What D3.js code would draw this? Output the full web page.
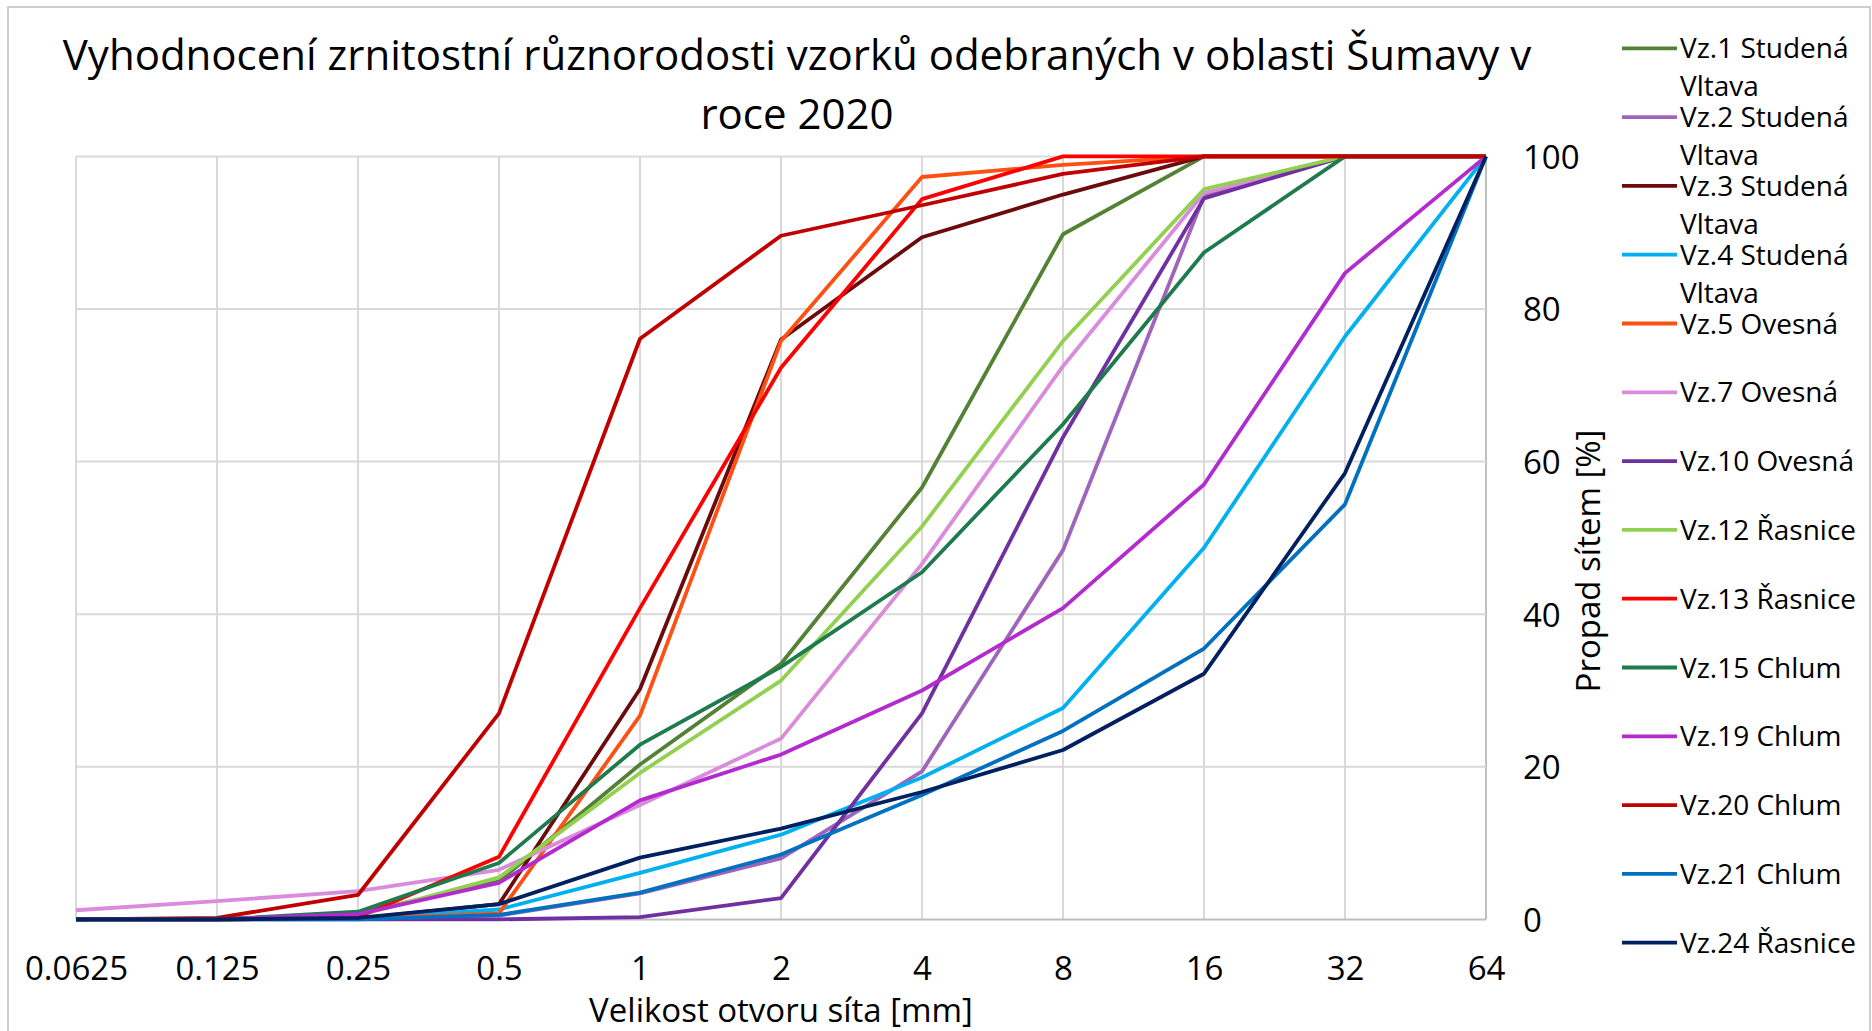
<!DOCTYPE html>
<html>
<head>
<meta charset="utf-8">
<script src="https://cdn.jsdelivr.net/npm/d3@7"></script>
<style>
  body { margin: 0; background: #fff; }
  svg { display: block; font-family: "Open Sans", sans-serif; }
</style>
</head>
<body>
<div id="chart"></div>
<script>
// sieve sizes [mm] and passing percentages
const sieves = ["0.0625", "0.125", "0.25", "0.5", "1", "2", "4", "8", "16", "32", "64"];
const yTicks = [0, 20, 40, 60, 80, 100];

const names = [
  "Vz.1 Studená Vltava", "Vz.2 Studená Vltava", "Vz.3 Studená Vltava", "Vz.4 Studená Vltava",
  "Vz.5 Ovesná", "Vz.7 Ovesná", "Vz.10 Ovesná", "Vz.12 Řasnice", "Vz.13 Řasnice",
  "Vz.15 Chlum", "Vz.19 Chlum", "Vz.20 Chlum", "Vz.21 Chlum", "Vz.24 Řasnice"
];
const colors = [
  "#548235", "#A064B9", "#6B0B0B", "#00B0F0", "#FF5014", "#D98CDC", "#7030A0",
  "#92D050", "#FF0000", "#1E7B4E", "#B32BCF", "#C00000", "#0070C0", "#002060"
];

const vz1  = [0, 0, 0.8, 5.0, 20.3, 33.5, 56.6, 89.8, 100, 100, 100];
const vz2  = [0, 0, 0.2, 0.5, 3.4, 8.0, 19.4, 48.4, 94.8, 100, 100];
const vz3  = [0, 0, 0.1, 2.0, 30.2, 76.0, 89.4, 95.0, 100, 100, 100];
const vz4  = [0, 0, 0.1, 1.3, 6.1, 11.1, 18.6, 27.7, 48.7, 76.4, 100];
const vz5  = [0, 0, 0.1, 0.8, 26.7, 75.8, 97.3, 98.9, 100, 100, 100];
const vz7  = [1.2, 2.4, 3.7, 6.5, 15.0, 23.7, 46.6, 72.5, 95.2, 100, 100];
const vz10 = [0, 0, 0, 0, 0.3, 2.8, 27.0, 63.2, 94.5, 100, 100];
const vz12 = [0, 0, 0.5, 5.5, 19.2, 31.3, 51.5, 75.8, 95.7, 100, 100];
const vz13 = [0, 0, 0.3, 8.2, 40.8, 72.3, 94.4, 100, 100, 100, 100];
const vz15 = [0, 0, 1.0, 7.4, 22.9, 33.1, 45.5, 64.9, 87.4, 100, 100];
const vz19 = [0, 0, 0.7, 4.8, 15.6, 21.6, 30.0, 40.8, 57.0, 84.7, 100];
const vz20 = [0, 0.2, 3.2, 27.0, 76.1, 89.6, 93.6, 97.7, 100, 100, 100];
const vz21 = [0, 0, 0, 0.6, 3.5, 8.5, 16.3, 24.7, 35.5, 54.4, 100];
const vz24 = [0, 0, 0.2, 2.0, 8.1, 11.9, 16.7, 22.2, 32.2, 58.5, 100];

const values = [vz1, vz2, vz3, vz4, vz5, vz7, vz10, vz12, vz13, vz15, vz19, vz20, vz21, vz24];

const W = 1872, H = 1031;
const plot = {left: 76, right: 1486, top: 156.4, bottom: 919.4};

const svg = d3.select("#chart").append("svg")
    .attr("width", W)
    .attr("height", H);

// outer chart frame
svg.append("rect")
    .attr("x", 8).attr("y", 7)
    .attr("width", 1862).attr("height", H)
    .attr("fill", "#fff")
    .attr("stroke", "#BFBFBF")
    .attr("stroke-width", 1.5);

const x = d3.scalePoint()
    .domain(sieves)
    .range([plot.left, plot.right]);

const y = d3.scaleLinear()
    .domain([0, 100])
    .range([plot.bottom, plot.top]);

// gridlines
svg.append("g")
    .selectAll("line.v")
    .data(sieves)
    .join("line")
    .attr("x1", d => x(d)).attr("x2", d => x(d))
    .attr("y1", plot.top).attr("y2", plot.bottom)
    .attr("stroke", d => d === "64" ? "#BFBFBF" : "#D9D9D9")
    .attr("stroke-width", 2);

svg.append("g")
    .selectAll("line.h")
    .data(yTicks)
    .join("line")
    .attr("x1", plot.left).attr("x2", plot.right)
    .attr("y1", d => y(d)).attr("y2", d => y(d))
    .attr("stroke", d => d === 0 ? "#BFBFBF" : "#D9D9D9")
    .attr("stroke-width", 2);

// x axis labels
const xAxis = d3.axisBottom(x).tickSize(0).tickPadding(0);
const gx = svg.append("g")
    .attr("transform", `translate(0, ${plot.bottom})`)
    .call(xAxis);
gx.select(".domain").remove();
gx.selectAll("text")
    .attr("y", 61)
    .attr("dy", 0)
    .style("font-size", "33px")
    .style("font-family", "Open Sans")
    .attr("fill", "#000");

// y axis labels (on the right)
const yAxis = d3.axisRight(y).tickValues(yTicks).tickSize(0).tickPadding(0);
const gy = svg.append("g")
    .attr("transform", `translate(${plot.right}, 0)`)
    .call(yAxis);
gy.select(".domain").remove();
gy.selectAll("text")
    .attr("x", 37)
    .attr("dy", "0.36em")
    .style("font-size", "33px")
    .style("font-family", "Open Sans")
    .attr("fill", "#000");

// the lines
const line = d3.line()
    .x((d, i) => x(sieves[i]))
    .y(d => y(d));

svg.append("g")
    .selectAll("path")
    .data(values)
    .join("path")
    .attr("d", d => line(d))
    .attr("fill", "none")
    .attr("stroke", (d, i) => colors[i])
    .attr("stroke-width", 3.8)
    .attr("stroke-linejoin", "round");

// titles
svg.append("text")
    .attr("x", 797).attr("y", 70)
    .attr("text-anchor", "middle")
    .style("font-size", "42px")
    .text("Vyhodnocení zrnitostní různorodosti vzorků odebraných v oblasti Šumavy v");
svg.append("text")
    .attr("x", 797).attr("y", 129)
    .attr("text-anchor", "middle")
    .style("font-size", "42px")
    .text("roce 2020");

svg.append("text")
    .attr("x", (plot.left + plot.right) / 2).attr("y", 1022)
    .attr("text-anchor", "middle")
    .style("font-size", "33px")
    .text("Velikost otvoru síta [mm]");

svg.append("text")
    .attr("transform", "translate(1600, 561) rotate(-90)")
    .attr("text-anchor", "middle")
    .style("font-size", "33px")
    .text("Propad sítem [%]");

// legend
const legend = svg.append("g")
    .selectAll("g")
    .data(names)
    .join("g")
    .attr("transform", (d, i) => `translate(1622, ${48.3 + i * 68.8})`);

legend.append("line")
    .attr("x1", 0).attr("x2", 55)
    .attr("stroke", (d, i) => colors[i])
    .attr("stroke-width", 3.8);

legend.each(function(d) {
    const words = d.split(" ");
    const t = d3.select(this).append("text")
        .attr("x", 58)
        .attr("dy", "0.36em")
        .style("font-size", "28px");
    t.append("tspan").attr("x", 58).text(words.slice(0, 2).join(" "));
    if (words.length > 2) {
        t.append("tspan").attr("x", 58).attr("dy", 38).text(words.slice(2).join(" "));
    }
});
</script>
</body>
</html>
